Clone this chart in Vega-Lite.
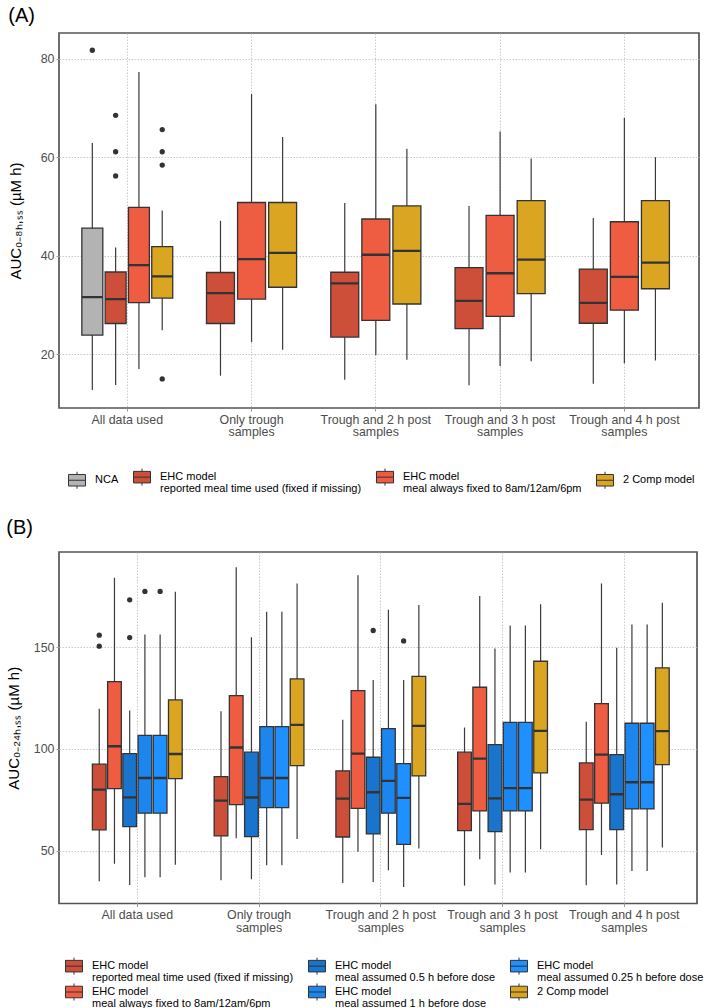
{
  "$schema": "https://vega.github.io/schema/vega-lite/v6.json",
  "padding": {"left": 5, "top": 5, "right": 0, "bottom": 0},
  "datasets": {
    "boxA": [
      {"group": "All data used", "model": "NCA", "lower": 12.75, "q1": 23.9, "median": 31.6, "q3": 45.6, "upper": 62.9},
      {"group": "All data used", "model": "EHC model: reported meal time used (fixed if missing)", "lower": 13.75, "q1": 26.25, "median": 31.2, "q3": 36.7, "upper": 41.65},
      {"group": "All data used", "model": "EHC model: meal always fixed to 8am/12am/6pm", "lower": 17.0, "q1": 30.5, "median": 38.1, "q3": 49.8, "upper": 77.3},
      {"group": "All data used", "model": "2 Comp model", "lower": 24.9, "q1": 31.4, "median": 35.8, "q3": 41.85, "upper": 49.2},
      {"group": "Only trough samples", "model": "EHC model: reported meal time used (fixed if missing)", "lower": 15.65, "q1": 26.25, "median": 32.4, "q3": 36.6, "upper": 47.1},
      {"group": "Only trough samples", "model": "EHC model: meal always fixed to 8am/12am/6pm", "lower": 22.5, "q1": 31.2, "median": 39.3, "q3": 50.8, "upper": 72.8},
      {"group": "Only trough samples", "model": "2 Comp model", "lower": 20.9, "q1": 33.6, "median": 40.6, "q3": 50.8, "upper": 64.1},
      {"group": "Trough and 2 h post samples", "model": "EHC model: reported meal time used (fixed if missing)", "lower": 14.85, "q1": 23.5, "median": 34.4, "q3": 36.65, "upper": 50.7},
      {"group": "Trough and 2 h post samples", "model": "EHC model: meal always fixed to 8am/12am/6pm", "lower": 19.8, "q1": 26.9, "median": 40.2, "q3": 47.45, "upper": 70.75},
      {"group": "Trough and 2 h post samples", "model": "2 Comp model", "lower": 18.9, "q1": 30.2, "median": 41.0, "q3": 50.1, "upper": 61.7},
      {"group": "Trough and 3 h post samples", "model": "EHC model: reported meal time used (fixed if missing)", "lower": 13.7, "q1": 25.2, "median": 30.85, "q3": 37.6, "upper": 50.1},
      {"group": "Trough and 3 h post samples", "model": "EHC model: meal always fixed to 8am/12am/6pm", "lower": 17.6, "q1": 27.7, "median": 36.45, "q3": 48.2, "upper": 65.2},
      {"group": "Trough and 3 h post samples", "model": "2 Comp model", "lower": 18.6, "q1": 32.3, "median": 39.2, "q3": 51.2, "upper": 59.75},
      {"group": "Trough and 4 h post samples", "model": "EHC model: reported meal time used (fixed if missing)", "lower": 14.0, "q1": 26.3, "median": 30.45, "q3": 37.3, "upper": 47.65},
      {"group": "Trough and 4 h post samples", "model": "EHC model: meal always fixed to 8am/12am/6pm", "lower": 18.2, "q1": 28.95, "median": 35.7, "q3": 46.9, "upper": 68.0},
      {"group": "Trough and 4 h post samples", "model": "2 Comp model", "lower": 18.75, "q1": 33.3, "median": 38.6, "q3": 51.2, "upper": 60.0}
    ],
    "outA": [
      {"group": "All data used", "model": "NCA", "value": 81.7},
      {"group": "All data used", "model": "EHC model: reported meal time used (fixed if missing)", "value": 68.5},
      {"group": "All data used", "model": "EHC model: reported meal time used (fixed if missing)", "value": 61.1},
      {"group": "All data used", "model": "EHC model: reported meal time used (fixed if missing)", "value": 56.2},
      {"group": "All data used", "model": "2 Comp model", "value": 65.6},
      {"group": "All data used", "model": "2 Comp model", "value": 61.1},
      {"group": "All data used", "model": "2 Comp model", "value": 58.4},
      {"group": "All data used", "model": "2 Comp model", "value": 15.0}
    ],
    "boxB": [
      {"group": "All data used", "model": "EHC model: reported meal time used (fixed if missing)", "lower": 34.9, "q1": 60.2, "median": 80.0, "q3": 92.5, "upper": 119.7},
      {"group": "All data used", "model": "EHC model: meal always fixed to 8am/12am/6pm", "lower": 43.6, "q1": 80.5, "median": 101.3, "q3": 133.1, "upper": 184.1},
      {"group": "All data used", "model": "EHC model: meal assumed 0.5 h before dose", "lower": 33.1, "q1": 61.8, "median": 76.2, "q3": 97.7, "upper": 118.9},
      {"group": "All data used", "model": "EHC model: meal assumed 1 h before dose", "lower": 36.9, "q1": 68.4, "median": 85.7, "q3": 106.7, "upper": 156.2},
      {"group": "All data used", "model": "EHC model: meal assumed 0.25 h before dose", "lower": 36.9, "q1": 68.4, "median": 85.7, "q3": 106.7, "upper": 156.2},
      {"group": "All data used", "model": "2 Comp model", "lower": 43.0, "q1": 85.4, "median": 97.5, "q3": 124.1, "upper": 177.2},
      {"group": "Only trough samples", "model": "EHC model: reported meal time used (fixed if missing)", "lower": 35.4, "q1": 57.2, "median": 74.6, "q3": 86.4, "upper": 118.5},
      {"group": "Only trough samples", "model": "EHC model: meal always fixed to 8am/12am/6pm", "lower": 56.1, "q1": 72.6, "median": 100.7, "q3": 126.2, "upper": 189.3},
      {"group": "Only trough samples", "model": "EHC model: meal assumed 0.5 h before dose", "lower": 35.9, "q1": 56.9, "median": 76.1, "q3": 98.4, "upper": 154.9},
      {"group": "Only trough samples", "model": "EHC model: meal assumed 1 h before dose", "lower": 42.8, "q1": 71.1, "median": 85.7, "q3": 111.0, "upper": 167.4},
      {"group": "Only trough samples", "model": "EHC model: meal assumed 0.25 h before dose", "lower": 42.8, "q1": 71.1, "median": 85.7, "q3": 111.0, "upper": 167.4},
      {"group": "Only trough samples", "model": "2 Comp model", "lower": 55.7, "q1": 91.8, "median": 111.8, "q3": 134.4, "upper": 181.3},
      {"group": "Trough and 2 h post samples", "model": "EHC model: reported meal time used (fixed if missing)", "lower": 34.1, "q1": 56.7, "median": 75.6, "q3": 89.2, "upper": 114.3},
      {"group": "Trough and 2 h post samples", "model": "EHC model: meal always fixed to 8am/12am/6pm", "lower": 49.5, "q1": 70.8, "median": 97.7, "q3": 128.7, "upper": 185.4},
      {"group": "Trough and 2 h post samples", "model": "EHC model: meal assumed 0.5 h before dose", "lower": 34.6, "q1": 58.2, "median": 78.7, "q3": 95.9, "upper": 133.9},
      {"group": "Trough and 2 h post samples", "model": "EHC model: meal assumed 1 h before dose", "lower": 40.3, "q1": 68.4, "median": 84.3, "q3": 110.0, "upper": 168.4},
      {"group": "Trough and 2 h post samples", "model": "EHC model: meal assumed 0.25 h before dose", "lower": 32.1, "q1": 53.1, "median": 75.9, "q3": 92.8, "upper": 133.9},
      {"group": "Trough and 2 h post samples", "model": "2 Comp model", "lower": 51.0, "q1": 86.7, "median": 111.3, "q3": 135.7, "upper": 170.8},
      {"group": "Trough and 3 h post samples", "model": "EHC model: reported meal time used (fixed if missing)", "lower": 32.8, "q1": 59.8, "median": 72.95, "q3": 98.4, "upper": 110.5},
      {"group": "Trough and 3 h post samples", "model": "EHC model: meal always fixed to 8am/12am/6pm", "lower": 45.7, "q1": 69.5, "median": 95.2, "q3": 130.3, "upper": 175.2},
      {"group": "Trough and 3 h post samples", "model": "EHC model: meal assumed 0.5 h before dose", "lower": 33.3, "q1": 59.3, "median": 75.7, "q3": 102.1, "upper": 149.3},
      {"group": "Trough and 3 h post samples", "model": "EHC model: meal assumed 1 h before dose", "lower": 39.2, "q1": 69.5, "median": 80.7, "q3": 113.0, "upper": 160.7},
      {"group": "Trough and 3 h post samples", "model": "EHC model: meal assumed 0.25 h before dose", "lower": 39.2, "q1": 69.5, "median": 80.7, "q3": 113.0, "upper": 160.7},
      {"group": "Trough and 3 h post samples", "model": "2 Comp model", "lower": 50.7, "q1": 88.2, "median": 108.9, "q3": 143.1, "upper": 171.1},
      {"group": "Trough and 4 h post samples", "model": "EHC model: reported meal time used (fixed if missing)", "lower": 33.0, "q1": 60.3, "median": 75.1, "q3": 93.1, "upper": 113.3},
      {"group": "Trough and 4 h post samples", "model": "EHC model: meal always fixed to 8am/12am/6pm", "lower": 47.9, "q1": 73.3, "median": 97.2, "q3": 122.3, "upper": 181.3},
      {"group": "Trough and 4 h post samples", "model": "EHC model: meal assumed 0.5 h before dose", "lower": 33.3, "q1": 60.3, "median": 77.7, "q3": 97.2, "upper": 149.7},
      {"group": "Trough and 4 h post samples", "model": "EHC model: meal assumed 1 h before dose", "lower": 40.0, "q1": 70.5, "median": 83.6, "q3": 112.6, "upper": 161.1},
      {"group": "Trough and 4 h post samples", "model": "EHC model: meal assumed 0.25 h before dose", "lower": 40.0, "q1": 70.5, "median": 83.6, "q3": 112.6, "upper": 161.1},
      {"group": "Trough and 4 h post samples", "model": "2 Comp model", "lower": 51.5, "q1": 92.3, "median": 108.7, "q3": 139.8, "upper": 171.8}
    ],
    "outB": [
      {"group": "All data used", "model": "EHC model: reported meal time used (fixed if missing)", "value": 155.9},
      {"group": "All data used", "model": "EHC model: reported meal time used (fixed if missing)", "value": 150.5},
      {"group": "All data used", "model": "EHC model: meal assumed 0.5 h before dose", "value": 173.3},
      {"group": "All data used", "model": "EHC model: meal assumed 0.5 h before dose", "value": 154.75},
      {"group": "All data used", "model": "EHC model: meal assumed 1 h before dose", "value": 177.4},
      {"group": "All data used", "model": "EHC model: meal assumed 0.25 h before dose", "value": 177.4},
      {"group": "Trough and 2 h post samples", "model": "EHC model: meal assumed 0.5 h before dose", "value": 158.2},
      {"group": "Trough and 2 h post samples", "model": "EHC model: meal assumed 0.25 h before dose", "value": 153.1}
    ]
  },
  "vconcat": [
    {
      "title": {"text": "(A)"},
      "width": 640,
      "height": 375,
      "encoding": {
        "x": {"field": "group", "type": "nominal", "title": null, "sort": null,
          "scale": {"domain": ["All data used", "Only trough samples", "Trough and 2 h post samples", "Trough and 3 h post samples", "Trough and 4 h post samples"], "paddingInner": 0.25, "paddingOuter": 0.2, "align": 0.436},
          "axis": {"labelAngle": 0, "bandPosition": 0.5, "labelBaseline": "top", "labelLineHeight": 12.7, "labelExpr": "datum.label == 'All data used' ? datum.label : [replace(datum.label, ' samples', ''), 'samples']"}}
      },
      "layer": [
        {
          "data": {"name": "boxA"},
          "transform": [{"filter": "datum.group == 'All data used'"}],
          "encoding": {"xOffset": {"field": "model", "type": "nominal", "scale": {"domain": ["NCA", "EHC model: reported meal time used (fixed if missing)", "EHC model: meal always fixed to 8am/12am/6pm", "2 Comp model"], "paddingInner": 0.1, "paddingOuter": 0.05}}},
          "layer": [
            {"mark": {"type": "rule", "color": "#3A3A3A", "strokeWidth": 1.2},
             "encoding": {"y": {"field": "lower", "type": "quantitative", "title": "AUC₀₋₈ₕ,ₛₛ (µM h)", "scale": {"domain": [9.1, 85.2], "nice": false, "zero": false}, "axis": {"values": [20, 40, 60, 80], "titlePadding": 17}}, "y2": {"field": "upper"}}},
            {"mark": {"type": "bar", "stroke": "#333333", "strokeWidth": 1.3},
             "encoding": {"y": {"field": "q1", "type": "quantitative", "title": "AUC₀₋₈ₕ,ₛₛ (µM h)", "scale": {"domain": [9.1, 85.2], "nice": false, "zero": false}}, "y2": {"field": "q3"},
               "color": {"field": "model", "type": "nominal", "scale": {"domain": ["NCA", "EHC model: reported meal time used (fixed if missing)", "EHC model: meal always fixed to 8am/12am/6pm", "2 Comp model"], "range": ["#B3B3B3", "#CD4F39", "#EE5C42", "#DAA520"]},
                 "legend": {"title": null, "orient": "none", "legendX": 9, "legendY": 435, "columns": 4, "direction": "horizontal", "columnPadding": 12, "rowPadding": -3,
                   "labelExpr": "length(split(datum.label, ': ')) > 1 ? [split(datum.label, ': ')[0], ' ' + split(datum.label, ': ')[1]] : datum.label",
                   "encode": {"labels": {"update": {"lineHeight": {"value": 11.7}}}}}}}},
            {"mark": {"type": "bar", "fillOpacity": 0, "stroke": "#333333", "strokeWidth": 2.3},
             "encoding": {"y": {"field": "median", "type": "quantitative", "title": "AUC₀₋₈ₕ,ₛₛ (µM h)", "scale": {"domain": [9.1, 85.2], "nice": false, "zero": false}}, "y2": {"field": "median"}}},
            {"data": {"name": "outA"},
             "mark": {"type": "circle", "size": 28, "color": "#333333", "opacity": 1},
             "encoding": {"y": {"field": "value", "type": "quantitative", "title": "AUC₀₋₈ₕ,ₛₛ (µM h)", "scale": {"domain": [9.1, 85.2], "nice": false, "zero": false}}}}
          ]
        },
        {
          "data": {"name": "boxA"},
          "transform": [{"filter": "datum.group != 'All data used'"}],
          "encoding": {"xOffset": {"field": "model", "type": "nominal", "scale": {"domain": ["EHC model: reported meal time used (fixed if missing)", "EHC model: meal always fixed to 8am/12am/6pm", "2 Comp model"], "paddingInner": 0.1, "paddingOuter": 0.05}}},
          "layer": [
            {"mark": {"type": "rule", "color": "#3A3A3A", "strokeWidth": 1.2},
             "encoding": {"y": {"field": "lower", "type": "quantitative", "title": "AUC₀₋₈ₕ,ₛₛ (µM h)", "scale": {"domain": [9.1, 85.2], "nice": false, "zero": false}}, "y2": {"field": "upper"}}},
            {"mark": {"type": "bar", "stroke": "#333333", "strokeWidth": 1.3},
             "encoding": {"y": {"field": "q1", "type": "quantitative", "title": "AUC₀₋₈ₕ,ₛₛ (µM h)", "scale": {"domain": [9.1, 85.2], "nice": false, "zero": false}}, "y2": {"field": "q3"},
               "color": {"field": "model", "type": "nominal", "scale": {"domain": ["NCA", "EHC model: reported meal time used (fixed if missing)", "EHC model: meal always fixed to 8am/12am/6pm", "2 Comp model"], "range": ["#B3B3B3", "#CD4F39", "#EE5C42", "#DAA520"]},
                 "legend": {"title": null, "orient": "none", "legendX": 9, "legendY": 435, "columns": 4, "direction": "horizontal", "columnPadding": 12, "rowPadding": -3,
                   "labelExpr": "length(split(datum.label, ': ')) > 1 ? [split(datum.label, ': ')[0], ' ' + split(datum.label, ': ')[1]] : datum.label",
                   "encode": {"labels": {"update": {"lineHeight": {"value": 11.7}}}}}}}},
            {"mark": {"type": "bar", "fillOpacity": 0, "stroke": "#333333", "strokeWidth": 2.3},
             "encoding": {"y": {"field": "median", "type": "quantitative", "title": "AUC₀₋₈ₕ,ₛₛ (µM h)", "scale": {"domain": [9.1, 85.2], "nice": false, "zero": false}}, "y2": {"field": "median"}}}
          ]
        }
      ],
      "resolve": {"scale": {"xOffset": "independent"}}
    },
    {
      "title": {"text": "(B)", "offset": 14},
      "width": 638,
      "height": 351.5,
      "data": {"name": "boxB"},
      "encoding": {
        "x": {"field": "group", "type": "nominal", "title": null, "sort": null,
          "scale": {"domain": ["All data used", "Only trough samples", "Trough and 2 h post samples", "Trough and 3 h post samples", "Trough and 4 h post samples"], "paddingInner": 0.25, "paddingOuter": 0.245, "align": 0.547},
          "axis": {"labelAngle": 0, "bandPosition": 0.5, "labelBaseline": "top", "labelLineHeight": 12.7, "labelExpr": "datum.label == 'All data used' ? datum.label : [replace(datum.label, ' samples', ''), 'samples']"}},
        "xOffset": {"field": "model", "type": "nominal", "scale": {"domain": ["EHC model: reported meal time used (fixed if missing)", "EHC model: meal always fixed to 8am/12am/6pm", "EHC model: meal assumed 0.5 h before dose", "EHC model: meal assumed 1 h before dose", "EHC model: meal assumed 0.25 h before dose", "2 Comp model"], "paddingInner": 0.1, "paddingOuter": 0.05}}
      },
      "layer": [
        {"mark": {"type": "rule", "color": "#3A3A3A", "strokeWidth": 1.2},
         "encoding": {"y": {"field": "lower", "type": "quantitative", "title": "AUC₀₋₂₄ₕ,ₛₛ (µM h)", "scale": {"domain": [24, 196.8], "nice": false, "zero": false}, "axis": {"values": [50, 100, 150], "titlePadding": 12}}, "y2": {"field": "upper"}}},
        {"mark": {"type": "bar", "stroke": "#333333", "strokeWidth": 1.3},
         "encoding": {"y": {"field": "q1", "type": "quantitative", "title": "AUC₀₋₂₄ₕ,ₛₛ (µM h)", "scale": {"domain": [24, 196.8], "nice": false, "zero": false}}, "y2": {"field": "q3"},
           "color": {"field": "model", "type": "nominal", "scale": {"domain": ["EHC model: reported meal time used (fixed if missing)", "EHC model: meal assumed 0.5 h before dose", "EHC model: meal assumed 0.25 h before dose", "EHC model: meal always fixed to 8am/12am/6pm", "EHC model: meal assumed 1 h before dose", "2 Comp model"], "range": ["#CD4F39", "#1874CD", "#1E90FF", "#EE5C42", "#1C86EE", "#DAA520"]},
             "legend": {"title": null, "orient": "none", "legendX": 6, "legendY": 405, "columns": 3, "direction": "horizontal", "columnPadding": 12, "rowPadding": -3,
               "labelExpr": "length(split(datum.label, ': ')) > 1 ? [split(datum.label, ': ')[0], ' ' + split(datum.label, ': ')[1]] : datum.label",
               "encode": {"labels": {"update": {"lineHeight": {"value": 11.7}}}}}}}},
        {"mark": {"type": "bar", "fillOpacity": 0, "stroke": "#333333", "strokeWidth": 2.3},
         "encoding": {"y": {"field": "median", "type": "quantitative", "title": "AUC₀₋₂₄ₕ,ₛₛ (µM h)", "scale": {"domain": [24, 196.8], "nice": false, "zero": false}}, "y2": {"field": "median"}}},
        {"data": {"name": "outB"},
         "mark": {"type": "circle", "size": 28, "color": "#333333", "opacity": 1},
         "encoding": {"y": {"field": "value", "type": "quantitative", "title": "AUC₀₋₂₄ₕ,ₛₛ (µM h)", "scale": {"domain": [24, 196.8], "nice": false, "zero": false}}}}
      ]
    }
  ],
  "spacing": 22,
  "resolve": {"scale": {"color": "independent", "x": "independent", "y": "independent", "xOffset": "independent"}},
  "config": {
    "font": "Liberation Sans",
    "style": {"guide-label": {"lineHeight": 11.7}},
    "view": {"stroke": "#555555", "strokeWidth": 1.7},
    "axis": {"labelFont": "Liberation Sans", "labelFontSize": 12.4, "labelColor": "#4D4D4D", "tickColor": "#9A9A9A", "tickSize": 3, "labelPadding": 2, "domain": false, "grid": true, "gridColor": "#BDBDBD", "gridDash": [1.5, 1.5], "gridWidth": 0.8, "titleFont": "Liberation Sans", "titleFontSize": 15, "titleFontWeight": "normal", "titleColor": "#000000"},
    "legend": {"labelFont": "Liberation Sans", "labelFontSize": 11, "labelColor": "#000000", "symbolType": "M0,-1V-0.68M-1,-0.68H1V0.68H-1ZM-1,0H1M0,0.68V1", "symbolSize": 289, "symbolStrokeColor": "#333333", "symbolStrokeWidth": 1, "labelOffset": 9, "columnPadding": 12, "rowPadding": -3, "labelLimit": 0, "padding": 0},
    "title": {"anchor": "start", "frame": "bounds", "fontSize": 20, "fontWeight": "normal", "font": "Liberation Sans", "color": "#000000", "offset": 7}
  }
}
